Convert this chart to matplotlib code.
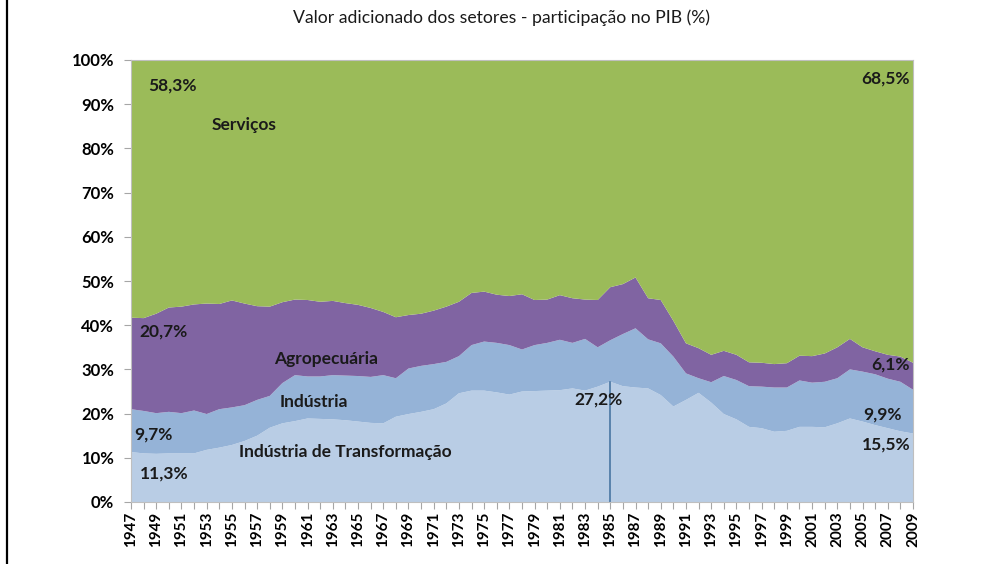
import matplotlib
matplotlib.use("Agg")
import matplotlib.pyplot as plt
from matplotlib.lines import Line2D
import numpy as np

plt.rcParams['font.family'] = ['Lato', 'DejaVu Sans']

years = list(range(1947, 2010))

transformacao = [11.3, 11.0, 10.9, 11.0, 11.0, 11.0, 11.8, 12.3, 12.9, 13.8,
                 15.0, 16.8, 17.8, 18.3, 18.9, 18.8, 18.7, 18.5, 18.2, 17.9,
                 17.8, 19.3, 19.9, 20.4, 21.0, 22.3, 24.6, 25.2, 25.2, 24.8,
                 24.3, 25.0, 25.1, 25.2, 25.3, 25.7, 25.2, 26.1, 27.2, 26.2,
                 25.9, 25.7, 24.2, 21.6, 23.1, 24.7, 22.5, 19.9, 18.7, 17.0,
                 16.7, 15.9, 16.1, 17.0, 17.0, 16.9, 17.8, 18.9, 18.2, 17.4,
                 16.7, 16.0, 15.5]

industria = [9.7, 9.6, 9.2, 9.4, 9.1, 9.7, 8.1, 8.7, 8.5, 8.1,
             8.1, 7.2, 9.1, 10.4, 9.5, 9.6, 10.0, 10.1, 10.3, 10.4,
             10.9, 8.7, 10.3, 10.4, 10.2, 9.4, 8.4, 10.3, 11.1, 11.2,
             11.2, 9.5, 10.4, 10.8, 11.4, 10.3, 11.7, 8.9, 9.4, 11.8,
             13.4, 11.1, 11.7, 11.3, 6.0, 3.3, 4.6, 8.6, 8.9, 9.2,
             9.4, 10.0, 9.8, 10.5, 10.0, 10.3, 10.2, 11.1, 11.3, 11.5,
             11.2, 11.2, 9.9]

agropecuaria = [20.7, 21.0, 22.5, 23.6, 24.1, 24.0, 25.0, 23.8, 24.2, 23.0,
                21.2, 20.2, 18.3, 17.1, 17.3, 16.9, 16.8, 16.4, 16.1, 15.6,
                14.3, 13.8, 12.1, 11.8, 12.1, 12.5, 12.3, 11.8, 11.3, 10.9,
                11.1, 12.5, 10.2, 9.8, 10.1, 10.1, 8.9, 10.7, 12.0, 11.3,
                11.5, 9.3, 9.8, 8.1, 6.8, 6.8, 6.2, 5.7, 5.7, 5.4,
                5.4, 5.3, 5.5, 5.6, 6.0, 6.4, 7.0, 6.9, 5.5, 5.2,
                5.4, 5.7, 6.1]

servicos = [58.3, 58.4, 57.4, 56.0, 55.8, 55.3, 55.1, 55.2, 54.4, 55.1,
            55.7, 55.8, 54.8, 54.2, 54.3, 54.7, 54.5, 55.0, 55.4, 56.1,
            57.0, 58.2, 57.7, 57.4, 56.7, 55.8, 54.7, 52.7, 52.4, 53.1,
            53.4, 53.0, 54.3, 54.2, 53.2, 53.9, 54.2, 54.3, 51.4, 50.7,
            49.2, 53.9, 54.3, 59.0, 64.1, 65.2, 66.7, 65.8, 66.7, 68.4,
            68.5, 68.8, 68.6, 66.9, 67.0, 66.4, 65.0, 63.1, 65.0, 65.9,
            66.7, 67.1, 68.5]

colors = ['#B9CDE5', '#95B3D7', '#8064A2', '#9BBB59']

fig = plt.figure(figsize=(10.01, 5.64), dpi=100)
fig.patch.set_facecolor('white')
W, H = 1001, 564
ax = fig.add_axes([131 / W, (H - 502) / H, (913 - 131) / W, (502 - 60) / H])

ax.stackplot(years, transformacao, industria, agropecuaria, servicos,
             colors=colors, linewidth=0)

ax.set_xlim(1947, 2009)
ax.set_ylim(0, 100)

# 1985 marker line
i85 = years.index(1985)
ax.plot([1985, 1985], [0, transformacao[i85]], color='#3F6E9C', lw=1.1)

ax.set_yticks(range(0, 101, 10))
ax.set_yticklabels([f"{v}%" for v in range(0, 101, 10)], fontweight='bold', fontsize=12)
ax.set_xticks(years)
ax.set_xticklabels([str(y) if (y - 1947) % 2 == 0 else '' for y in years],
                   rotation=90, fontweight='bold', fontsize=11)
ax.tick_params(axis='y', length=5, pad=7, color='#A6A6A6')
ax.tick_params(axis='x', length=5, pad=2, color='#A6A6A6')
for s in ax.spines.values():
    s.set_color('#BFBFBF')
    s.set_linewidth(0.8)

fs = 12.5
def lab(x, y, t, ha='center'):
    ax.text(x, y, t, ha=ha, va='center', fontsize=fs, fontweight='bold', color='#1A1A1A')

lab(1950.3, 94.3, '58,3%')
lab(1956.0, 85.3, 'Serviços')
lab(1949.6, 38.5, '20,7%')
lab(1962.5, 32.4, 'Agropecuária')
lab(1961.5, 22.7, 'Indústria')
lab(1948.8, 15.2, '9,7%')
lab(1955.6, 11.4, 'Indústria de Transformação', ha='left')
lab(1949.6, 6.5, '11,3%')
lab(2006.8, 95.9, '68,5%')
lab(2007.2, 31.2, '6,1%')
lab(2006.6, 19.7, '9,9%')
lab(2006.9, 12.9, '15,5%')
lab(1984.1, 23.1, '27,2%')

fig.text(501 / W, 1 - 18 / H, 'Valor adicionado dos setores - participação no PIB (%)',
         ha='center', va='center', fontsize=12.7, color='#1A1A1A')

fig.add_artist(Line2D([7 / W, 7 / W], [0, 1], color='black', lw=1.6,
                      transform=fig.transFigure))

fig.savefig('out.png', dpi=100, facecolor='white')
